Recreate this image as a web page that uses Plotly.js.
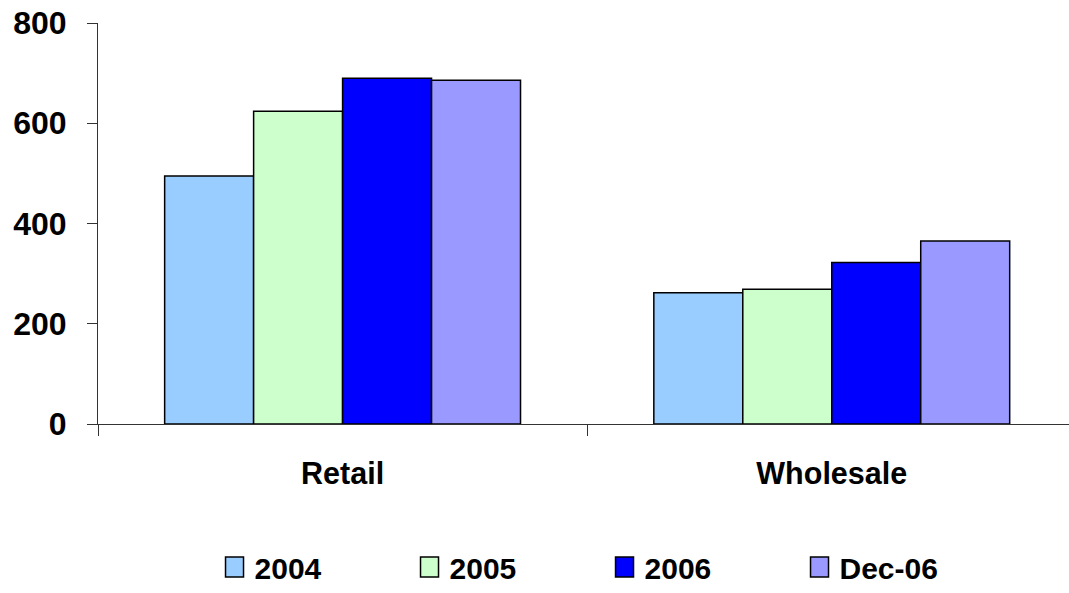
<!DOCTYPE html>
<html>
<head>
<meta charset="utf-8">
<script src="https://cdn.plot.ly/plotly-3.0.1.min.js"></script>
<style>html,body{margin:0;padding:0;background:#fff;}#chart{width:1069px;height:593px;}</style>
</head>
<body>
<div id="chart"></div>
<script>
const categories = ["Retail", "Wholesale"];
const seriesNames = ["2004", "2005", "2006", "Dec-06"];
const values2004 = [495, 262];
const values2005 = [624, 269];
const values2006 = [690, 322];
const valuesDec06 = [686, 365];
const seriesColors = ["#99CCFF", "#CCFFCC", "#0000FF", "#9999FF"];
const yTicks = [0, 200, 400, 600, 800];

const allValues = [values2004, values2005, values2006, valuesDec06];
const FONT = "Liberation Sans, Arial, sans-serif";

const traces = allValues.map((vals, i) => ({
  type: "bar",
  name: seriesNames[i],
  x: categories,
  y: vals,
  marker: {color: seriesColors[i], line: {color: "#000000", width: 1.5}},
  hoverinfo: "skip"
}));

const layout = {
  width: 1069,
  height: 593,
  margin: {l: 98, r: 0, t: 23, b: 169, pad: 0, autoexpand: false},
  paper_bgcolor: "#ffffff",
  plot_bgcolor: "#ffffff",
  barmode: "group",
  bargap: 0.2725,
  bargroupgap: 0,
  showlegend: true,
  legend: {
    orientation: "h",
    x: 0.12, xanchor: "left",
    y: -0.4214, yanchor: "bottom",
    entrywidth: 150, entrywidthmode: "pixels",
    font: {family: FONT, size: 30, color: "#000000", weight: "bold"},
    bgcolor: "rgba(0,0,0,0)",
    tracegroupgap: 0,
    traceorder: "normal"
  },
  xaxis: {
    type: "category",
    range: [-0.5, 1.485],
    showline: true, linecolor: "#333333", linewidth: 1,
    ticks: "outside", tickson: "boundaries", ticklen: 11, tickcolor: "#333333", tickwidth: 1,
    showgrid: false, zeroline: false,
    tickfont: {family: FONT, size: 30.5, color: "#000000", weight: "bold"},
    ticklabelstandoff: 22,
    fixedrange: true
  },
  yaxis: {
    range: [0, 800],
    tickvals: yTicks,
    ticktext: yTicks.map(String),
    showline: true, linecolor: "#333333", linewidth: 1,
    ticks: "outside", ticklen: 10, tickcolor: "#333333", tickwidth: 1,
    showgrid: false, zeroline: false,
    tickfont: {family: FONT, size: 32, color: "#000000", weight: "bold"},
    ticklabelstandoff: 14,
    fixedrange: true
  }
};

Plotly.newPlot("chart", traces, layout, {displayModeBar: false, staticPlot: true}).then(() => {
  document.querySelectorAll(".legendpoints path").forEach(p => {
    p.setAttribute("d", "M9,10H-9V-10H9Z");
  });
});
</script>
</body>
</html>
